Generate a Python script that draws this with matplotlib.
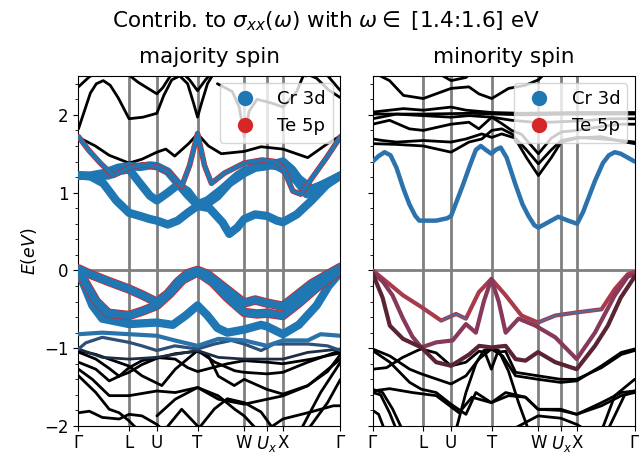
import matplotlib
matplotlib.use("Agg")
import matplotlib.pyplot as plt
from matplotlib.lines import Line2D

# ---------------- data ----------------
K_TICKS = [0, 51, 79, 120, 167, 190, 206, 264]
K_LABELS = [r"$\Gamma$", "L", "U", "T", "W", r"$U_x$", "X", r"$\Gamma$"]

# majority spin: bands with no weight (black)
maj_black = [
    [(0,1.71),(17,1.60),(31,1.48),(51,1.38),(64,1.43),(79,1.52),(88,1.56),(97,1.47),(111,1.63),(120,1.755),(131,1.60),(144,1.50),(167,1.53),(184,1.59),(206,1.56),(231,1.45),(251,1.63),(264,1.73)],
    [(0,1.82),(6,2.05),(12,2.28),(18,2.40),(25,2.44),(32,2.38),(40,2.22),(51,1.95),(65,1.97),(79,2.02),(86,2.25),(94,2.45),(102,2.50),(110,2.40),(116,2.15),(120,1.97),(124,2.15),(130,2.40),(137,2.55)],
    [(0,2.36),(11,2.49),(20,2.55)],
    [(47,2.55),(60,2.42),(79,2.27),(85,2.35),(95,2.55)],
    [(104,2.55),(112,2.45),(120,2.31),(128,2.45),(135,2.55)],
    [(140,2.40),(155,2.30),(162,2.10),(167,1.72),(172,2.05),(180,2.20),(195,2.15),(206,2.10),(220,2.30),(228,2.55)],
    [(222,2.55),(229,2.50),(236,2.55)],
    [(226,2.55),(240,2.47),(252,2.32),(264,2.22)],
    [(248,2.55),(264,2.31)],
    [(0,-1.03),(17.5,-1.08),(51,-1.23),(64,-1.355),(84,-1.48),(97.5,-1.27),(120,-1.03),(137.5,-1.18),(157.5,-1.29),(167,-1.31),(190,-1.33),(206,-1.31),(231,-1.18),(264,-1.03)],
    [(0,-1.05),(17.5,-1.14),(31,-1.26),(41,-1.36),(51,-1.31),(64,-1.21),(79,-1.13),(97.5,-1.07),(120,-1.04),(131,-1.10),(141,-1.36),(157,-1.48),(167,-1.40),(190,-1.53),(206,-1.59),(231,-1.48),(251,-1.30),(264,-1.08)],
    [(0,-1.18),(17.5,-1.27),(31,-1.42),(41,-1.36),(51,-1.25),(64,-1.16),(79,-1.12),(97.5,-1.14),(110,-1.25),(120,-1.30),(135,-1.25),(150,-1.20),(167,-1.16),(190,-1.18),(206,-1.20),(235,-1.14),(264,-1.06)],
    [(0,-1.27),(14,-1.40),(31,-1.61),(51,-1.61),(79,-1.55),(97.5,-1.57),(120,-1.505),(141,-1.656),(167,-1.72),(190,-1.656),(206,-1.613),(231,-1.484),(264,-1.14)],
    [(0,-1.355),(17.5,-1.57),(31,-1.785),(41,-1.83),(51,-1.935),(60,-2.05)],
    [(0,-1.83),(11,-1.81),(24,-1.89),(41,-1.91),(51,-1.85),(64,-1.87),(79,-1.98),(85,-2.05)],
    [(79,-1.87),(97.5,-1.656),(120,-1.505),(141,-1.613),(157.5,-1.785),(167,-1.87),(180,-2.05)],
    [(87,-2.05),(104,-1.785),(120,-2.0),(125,-2.05)],
    [(120,-2.05),(137,-1.78),(150,-1.65),(167,-1.70),(184,-1.82),(197,-2.05)],
    [(224,-2.05),(244,-1.57),(264,-1.18)],
    [(231,-2.05),(251,-1.70),(264,-1.40)],
    [(190,-2.05),(206,-1.91),(231,-1.83),(257,-1.74),(264,-1.74)],
]
# majority spin: Cr 3d dominated bands
maj_cr_thick = [
    [(0,1.22),(12,1.21),(25,1.12),(38,0.90),(51,0.74),(62,0.70),(72,0.66),(79,0.64),(90,0.59),(100,0.64),(110,0.74),(120,0.83),(132,0.80),(145,0.62),(152,0.47),(160,0.55),(167,0.66),(178,0.72),(190,0.70),(200,0.64),(206,0.62),(220,0.72),(235,0.90),(250,1.10),(264,1.22)],
    [(0,1.22),(12,1.22),(25,1.25),(40,1.32),(51,1.34),(62,1.33),(72,1.35),(79,1.34),(90,1.27),(100,1.12),(110,0.97),(120,0.84),(130,0.86),(140,0.95),(152,1.12),(167,1.25),(178,1.32),(190,1.34),(200,1.38),(206,1.40),(215,1.30),(222,1.18),(235,1.05),(250,1.12),(264,1.22)],
    [(0,1.22),(15,1.21),(30,1.22),(42,1.28),(51,1.30),(62,1.12),(72,0.96),(79,0.90),(90,1.00),(100,1.10),(110,1.02),(120,0.85),(130,0.90),(145,1.05),(160,1.22),(167,1.28),(180,1.34),(190,1.36),(200,1.34),(206,1.30),(220,1.15),(230,0.98),(245,1.10),(264,1.22)],
    [(0,-0.02),(6,-0.2),(14,-0.45),(24,-0.62),(51,-0.69),(79,-0.67),(95,-0.70),(108,-0.58),(120,-0.45),(130,-0.58),(140,-0.74),(150,-0.80),(167,-0.76),(184,-0.70),(190,-0.72),(206,-0.82),(222,-0.70),(240,-0.45),(252,-0.2),(264,-0.02)],
]
# majority spin: mixed Cr 3d / Te 5p bands
maj_mixed = [
    [(0,1.72),(10,1.55),(22,1.38),(35,1.22),(51,1.32),(65,1.36),(79,1.33),(92,1.25),(104,1.08),(112,1.35),(120,1.76),(127,1.35),(134,1.12),(147,1.25),(167,1.38),(185,1.42),(198,1.40),(206,1.32),(216,1.02),(224,0.98),(236,1.20),(250,1.45),(264,1.72)],
    [(0,0.02),(12,-0.05),(30,-0.14),(51,-0.24),(65,-0.32),(79,-0.41),(90,-0.30),(100,-0.15),(110,-0.04),(120,0.0),(130,-0.05),(145,-0.2),(158,-0.33),(167,-0.42),(178,-0.38),(190,-0.42),(206,-0.46),(220,-0.32),(235,-0.17),(250,-0.06),(264,0.04)],
    [(0,0.0),(8,-0.18),(18,-0.40),(30,-0.55),(51,-0.58),(65,-0.52),(79,-0.45),(92,-0.30),(105,-0.12),(120,-0.02),(135,-0.15),(150,-0.35),(167,-0.54),(180,-0.56),(190,-0.55),(206,-0.58),(222,-0.42),(240,-0.22),(264,0.0)],
]
maj_cr_thin = [
    [(0,-0.82),(24,-0.80),(51,-0.82),(79,-0.84),(97,-0.90),(120,-0.97),(141,-0.88),(167,-0.90),(190,-0.97),(206,-0.90),(231,-0.90),(244,-0.82),(264,-0.84)],
]
maj_cr_weak = [
    [(0,-1.01),(7.5,-0.93),(24,-0.86),(51,-0.925),(64,-0.97),(79,-1.03),(97,-0.97),(120,-1.01),(137,-0.946),(154,-0.90),(167,-0.946),(184,-1.03),(197,-0.946),(231,-0.946),(251,-0.97),(264,-1.03)],
]
maj_cr_faint = [
    [(0,-1.01),(24,-1.118),(51,-1.14),(79,-1.118),(120,-1.03),(141,-1.118),(167,-1.14),(206,-1.14),(231,-1.054),(264,-1.01)],
]

# minority spin
min_black = [
    [(0,2.55),(17,2.44),(31,2.25),(51,2.21),(79,2.34),(97,2.36),(107,2.27),(120,2.21),(137,2.34),(154,2.38),(167,2.45),(175,2.55)],
    [(64,2.55),(79,2.44),(94,2.48),(100,2.55)],
    [(0,2.01),(50,2.01),(100,2.02),(150,2.00),(200,2.01),(264,2.01)],
    [(0,2.035),(31,2.08),(51,2.06),(79,2.10),(94,2.06),(120,2.03),(150,2.02),(206,2.03),(264,2.03)],
    [(0,1.95),(24,2.01),(51,1.99),(79,1.97),(97,1.99),(120,1.97),(140,1.93),(167,1.90),(206,1.92),(240,1.95),(264,1.95)],
    [(0,1.88),(17,1.93),(37,1.82),(51,1.80),(79,1.88),(97,1.905),(107,1.82),(120,1.97),(131,1.88),(140,1.80),(150,1.75),(167,1.50),(180,1.70),(190,1.78),(206,1.80),(230,1.85),(250,1.88),(264,1.88)],
    [(0,1.69),(10,1.67),(24,1.65),(51,1.67),(79,1.65),(94,1.69),(110,1.755),(120,1.71),(130,1.755),(144,1.70),(155,1.55),(167,1.37),(180,1.55),(190,1.67),(206,1.71),(230,1.69),(250,1.67),(264,1.65)],
    [(0,1.63),(24,1.62),(51,1.60),(79,1.52),(97,1.65),(110,1.69),(120,1.80),(130,1.82),(141,1.75),(155,1.45),(167,1.22),(180,1.45),(190,1.65),(206,1.70),(230,1.72),(250,1.66),(264,1.63)],
    [(0,-1.01),(17.3,-1.10),(37.3,-1.27),(49,-1.33),(79,-1.46),(94,-1.355),(107,-1.14),(119.6,-1.01),(131,-1.10),(144,-1.355),(166.6,-1.40),(189.6,-1.44),(205.6,-1.42),(230.6,-1.227),(250.6,-1.054),(264,-1.01)],
    [(0,-1.03),(17.3,-1.18),(37.3,-1.44),(49,-1.527),(64,-1.57),(79,-1.72),(94,-1.85),(104,-1.57),(119.6,-1.70),(134,-1.57),(154,-1.63),(166.6,-1.785),(189.6,-1.785),(205.6,-1.85),(230.6,-1.70),(250.6,-1.57),(264,-1.55)],
    [(0,-1.27),(14,-1.25),(30,-1.12),(45,-1.03),(49,-1.01),(64,-1.06),(79,-1.227),(94,-1.18),(107,-1.04),(113,-1.05),(119.6,-1.27),(126,-1.05),(134,-1.04),(144,-1.31),(166.6,-1.355),(189.6,-1.40),(205.6,-1.40),(230.6,-1.25),(250.6,-1.08),(264,-1.03)],
    [(84,-2.05),(94,-1.57),(104,-1.20),(112,-1.03),(119.6,-1.01),(127,-1.03),(137,-1.30),(147,-1.70),(157,-2.05)],
    [(0,-1.55),(17,-1.52),(40,-1.57),(64,-1.61),(87,-1.83),(100,-1.63),(119.6,-1.70),(137,-1.61),(154,-1.63),(166.6,-1.785),(189.6,-1.80),(205.6,-1.85),(230.6,-1.74),(250.6,-1.61),(264,-1.57)],
    [(0,-1.53),(10,-1.57),(20,-1.78),(30,-2.05)],
    [(0,-1.57),(8,-1.60),(17,-1.83),(24,-2.05)],
    [(0,-1.80),(6,-1.85),(12,-2.05)],
    [(231,-2.05),(244,-1.61),(264,-1.40)],
    [(237,-2.05),(254,-1.60),(264,-1.55)],
    [(140,-2.05),(166.6,-1.87),(189.6,-1.90),(205.6,-1.98),(215,-2.05)],
]
min_cr = [
    [(0,1.40),(6,1.47),(12,1.52),(18,1.48),(24,1.32),(31,1.05),(37,0.85),(43,0.70),(47,0.64),(64,0.64),(75,0.67),(79,0.70),(85,0.90),(91,1.10),(98,1.35),(104,1.55),(109,1.60),(114,1.55),(119.6,1.50),(124,1.55),(129,1.58),(135,1.45),(144,1.10),(151,0.85),(157,0.70),(163,0.58),(167,0.55),(177,0.62),(187,0.69),(197,0.64),(206,0.60),(212,0.75),(218,0.95),(224,1.15),(232,1.38),(238,1.48),(244,1.52),(250,1.50),(257,1.45),(264,1.40)],
]
min_te = [
    [(0,0.0),(10.6,-0.11),(30.6,-0.32),(49,-0.47),(69,-0.645),(84,-0.56),(94,-0.62),(107,-0.28),(119.6,-0.11),(134,-0.32),(150,-0.58),(166.6,-0.67),(184,-0.58),(205.6,-0.54),(230.6,-0.50),(244,-0.24),(257,-0.05),(264,-0.02)],
    [(0,-0.02),(10.6,-0.15),(20,-0.32),(30.6,-0.62),(40,-0.85),(49,-0.99),(64,-0.925),(80.6,-0.90),(94,-0.69),(104,-0.80),(112,-0.40),(119.6,-0.11),(127,-0.40),(134,-0.80),(147,-0.62),(164,-0.71),(184,-0.86),(205.6,-1.14),(224,-0.80),(244,-0.32),(257,-0.08),(264,-0.05)],
    [(0,-0.04),(10,-0.35),(17.3,-0.71),(30.6,-0.88),(49,-0.99),(64,-1.18),(79,-1.226),(97.3,-1.08),(107.3,-0.97),(119.6,-0.99),(134,-0.97),(144,-1.14),(154,-1.16),(166.6,-1.05),(184,-1.18),(205.6,-1.27),(224,-0.97),(237,-0.71),(250,-0.35),(264,-0.08)],
]
# k-ranges of the top Te band where Cr 3d weight shows through
min_te_cr_ranges = [(66, 96), (160, 232)]

# ---------------- styling ----------------
BLUE = "#1f77b4"
RED = "#d62728"
TE_COLORS = ["#a93a4c", "#86395a", "#5a2433"]

fig = plt.figure(figsize=(6.39, 4.54), dpi=100)
axL = fig.add_axes([0.1228, 0.0617, 0.4100, 0.771])
axR = fig.add_axes([0.5832, 0.0617, 0.4100, 0.771], sharey=axL)


def draw(ax, bands, color, lw, z):
    for b in bands:
        k = [p[0] for p in b]
        e = [p[1] for p in b]
        ax.plot(k, e, color=color, lw=lw, zorder=z,
                solid_capstyle="round", solid_joinstyle="round")


for ax in (axL, axR):
    for kx in K_TICKS[1:-1]:
        ax.axvline(kx, color="gray", lw=2, zorder=1)
    ax.axhline(0, color="gray", lw=2, zorder=1)
    ax.set_xlim(K_TICKS[0], K_TICKS[-1])
    ax.set_ylim(-2, 2.5)
    ax.set_xticks(K_TICKS)
    ax.set_xticklabels(K_LABELS, fontsize=12)
    ax.set_yticks([-2, -1, 0, 1, 2])
    ax.set_yticks([-2 + 0.2 * i for i in range(23)], minor=True)
    ax.tick_params(labelsize=12)
    ax.tick_params(axis="x", pad=2.5)

# majority
draw(axL, maj_black, "black", 2.0, 2)
draw(axL, maj_cr_faint, "#1d2e44", 2.0, 3)
draw(axL, maj_cr_weak, "#2e4f78", 2.3, 3)
draw(axL, maj_cr_thin, "#2a72aa", 3.0, 3)
draw(axL, maj_cr_thick, BLUE, 6.0, 4)
draw(axL, maj_mixed[:1], RED, 4.0, 4)
draw(axL, maj_mixed[:1], BLUE, 3.0, 5)
draw(axL, maj_mixed[1:], RED, 6.8, 4)
draw(axL, maj_mixed[1:], BLUE, 5.6, 5)

# minority
draw(axR, min_black, "black", 2.0, 2)
draw(axR, min_cr, "#2c72ad", 3.2, 4)
for band, col in zip(min_te, TE_COLORS):
    draw(axR, [band], col, 3.0, 4)
for k0, k1 in min_te_cr_ranges:
    seg = [p for p in min_te[0] if k0 <= p[0] <= k1]
    draw(axR, [seg], "#4f6a9c", 1.4, 5)

plt.setp(axR.get_yticklabels(), visible=False)
axL.set_ylabel(r"$E(eV)$", fontsize=12.5)

axL.set_title("majority spin", fontsize=15.5, pad=9)
axR.set_title("minority spin", fontsize=15.5, pad=9)
fig.suptitle(r"Contrib. to $\sigma_{xx}(\omega)$ with $\omega\in$ [1.4:1.6] eV",
             fontsize=15.5, x=0.51, y=0.953, va="center")

handles = [Line2D([], [], marker="o", ls="none", color=BLUE, markersize=10, label="Cr 3d"),
           Line2D([], [], marker="o", ls="none", color=RED, markersize=10, label="Te 5p")]
for ax in (axL, axR):
    leg = ax.legend(handles=handles, loc="upper right", fontsize=13, framealpha=0.8,
                    borderaxespad=0.4)
    leg.set_zorder(10)

fig.savefig("out.png", dpi=100)
